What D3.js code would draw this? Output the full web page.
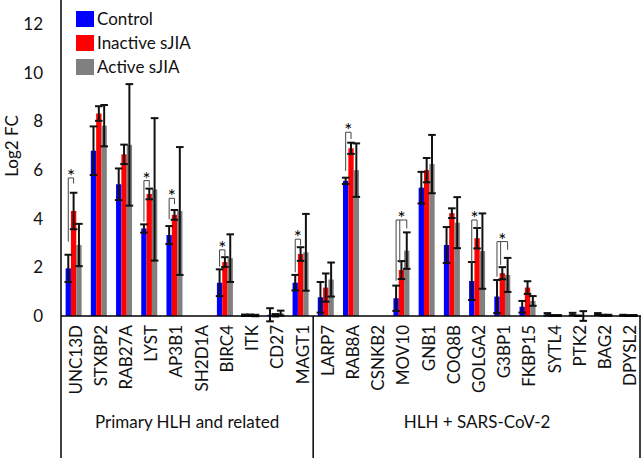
<!DOCTYPE html>
<html><head><meta charset="utf-8">
<script src="https://cdn.jsdelivr.net/npm/d3@7"></script>
<style>
html,body{margin:0;padding:0;background:#fff;}
text{font-family:Lato,"Open Sans",sans-serif;fill:#111;}
</style></head>
<body><svg id="c" width="642" height="458"></svg>
<script>
const genes = ["UNC13D","STXBP2","RAB27A","LYST","AP3B1","SH2D1A","BIRC4","ITK","CD27","MAGT1",
  "LARP7","RAB8A","CSNKB2","MOV10","GNB1","COQ8B","GOLGA2","G3BP1","FKBP15","SYTL4","PTK2","BAG2","DPYSL2"];
const seriesNames = ["Control","Inactive sJIA","Active sJIA"];
const control     = [1.96,6.8,5.42,3.6,3.33,0,1.37,0.03,0.05,1.37,0.77,5.56,0,0.73,5.28,2.92,1.44,0.8,0.38,0.07,0.08,0.08,0.03];
const controlErr  = [0.56,1.0,0.65,0.17,0.37,0,0.55,0.03,0.27,0.32,0.63,0.13,0,0.52,0.65,0.74,0.78,0.68,0.24,0.05,0.05,0.04,0.02];
const inactive    = [4.32,8.33,6.65,5.02,4.16,0,2.22,0.03,0.03,2.55,1.17,6.9,0,1.89,6.0,4.23,3.2,1.76,1.17,0.02,0.01,0.03,0.02];
const inactiveErr = [0.75,0.3,0.4,0.22,0.2,0,0.2,0.03,0.05,0.28,0.58,0.23,0,0.37,0.5,0.2,0.42,0.25,0.26,0.02,0.01,0.02,0.02];
const active      = [2.92,7.83,7.04,5.21,4.32,0,2.38,0.02,0.12,2.62,1.5,6.0,0,2.69,6.25,3.84,2.67,1.69,0.62,0.02,0.0,0.03,0.02];
const activeErr   = [0.87,0.85,2.5,2.93,2.63,0,0.98,0.03,0.1,1.58,0.7,1.1,0,0.75,1.2,1.05,1.55,0.7,0.2,0.02,0.2,0.02,0.02];
const yTicks = [0,2,4,6,8,10,12];
const groups = [{name:"Primary HLH and related", first:"UNC13D", last:"MAGT1"},
                {name:"HLH + SARS-CoV-2", first:"LARP7", last:"DPYSL2"}];
// significance brackets
const sigGene  = ["UNC13D","LYST","AP3B1","BIRC4","MAGT1","RAB8A","MOV10","GOLGA2","G3BP1"];
const sigTo    = [1,1,1,1,1,1,2,1,2];
const sigTop   = [5.68,5.57,4.84,2.72,3.16,7.56,3.95,3.95,3.06];
const sigLeft  = [3.06,3.88,3.98,2.03,1.8,5.97,1.45,2.17,1.62];
const sigRight = [5.45,5.3,4.6,2.44,2.9,7.28,3.6,3.57,2.72];
const sigMid   = [null,null,null,null,null,null,2.19,null,2.1];

const colors = ["#0000ff","#ff0000","#808080"];
const svg = d3.select("#c");
const W=642,H=458;
const x0 = d3.scaleBand().domain(genes).range([61,641]).padding(0);
const x1 = d3.scaleBand().domain([0,1,2]).range([-8,8]);
const y = d3.scaleLinear().domain([0,13]).range([316,0]);

const vals = [control,inactive,active], errs=[controlErr,inactiveErr,activeErr];
const data = [];
genes.forEach((g,i)=>{ for(let s=0;s<3;s++) data.push({g,s,v:vals[s][i],e:errs[s][i]}); });
const cx = d=> x0(d.g)+x0.bandwidth()/2 + x1(d.s);

// bars
svg.append("g").selectAll("rect").data(data).join("rect")
  .attr("x",d=>cx(d)).attr("width",x1.bandwidth())
  .attr("y",d=>y(Math.max(0,d.v))).attr("height",d=>Math.abs(y(0)-y(d.v)))
  .attr("fill",d=>colors[d.s]);

// error bars
const eb = svg.append("g").attr("stroke","#111").attr("stroke-width",2);
data.filter(d=>d.e>0).forEach(d=>{
  const xc = cx(d)+x1.bandwidth()/2;
  eb.append("line").attr("x1",xc).attr("x2",xc).attr("y1",y(d.v+d.e)).attr("y2",y(d.v-d.e));
  [d.v+d.e,d.v-d.e].forEach(v=>eb.append("line").attr("x1",xc-3.8).attr("x2",xc+3.8).attr("y1",y(v)).attr("y2",y(v)));
});

// significance
const sg = svg.append("g");
sigGene.forEach((g,i)=>{
  const xa = x0(g)+x0.bandwidth()/2 + x1(0)+x1.bandwidth()/2;
  const xb = x0(g)+x0.bandwidth()/2 + x1(sigTo[i])+x1.bandwidth()/2;
  const p = d3.path();
  p.moveTo(xa,y(sigLeft[i])); p.lineTo(xa,y(sigTop[i])); p.lineTo(xb,y(sigTop[i])); p.lineTo(xb,y(sigRight[i]));
  if(sigMid[i]!=null){ const xm = x0(g)+x0.bandwidth()/2 + x1(1)+1; p.moveTo(xm,y(sigTop[i])); p.lineTo(xm,y(sigMid[i])); }
  sg.append("path").attr("d",p.toString()).attr("fill","none").attr("stroke","#444").attr("stroke-width",1);
  sg.append("text").attr("x",(xa+xb)/2).attr("y",y(sigTop[i])+5).attr("text-anchor","middle")
    .style("font-size","19px").style("fill","#000").text("*");
});

// axes lines
const ax = svg.append("g").attr("stroke","#000").attr("stroke-width",1.5);
ax.append("line").attr("x1",61).attr("x2",61).attr("y1",0).attr("y2",H);
ax.append("line").attr("x1",61).attr("x2",641).attr("y1",y(0)).attr("y2",y(0));
ax.append("line").attr("x1",640).attr("x2",640).attr("y1",y(0)).attr("y2",H);
const divX = x0("LARP7");
ax.append("line").attr("x1",divX).attr("x2",divX).attr("y1",y(0)).attr("y2",H);

// y tick labels
svg.append("g").selectAll("text").data(yTicks).join("text")
  .attr("x",43).attr("y",d=>y(d)).attr("dy","0.35em").attr("text-anchor","end")
  .style("font-size","17px").text(d=>d);
svg.append("text").attr("transform",`translate(18,${146}) rotate(-90)`).attr("text-anchor","middle")
  .style("font-size","17px").text("Log2 FC");

// x labels
svg.append("g").selectAll("text").data(genes).join("text")
  .attr("transform",d=>`translate(${x0(d)+x0.bandwidth()/2+2},${y(0)+9}) rotate(-90)`)
  .attr("dy","0.35em").attr("text-anchor","end").style("font-size","17px").text(d=>d);

// group labels
groups.forEach(gp=>{
  const xa = gp.first===genes[0]?61:x0(gp.first), xb = x0(gp.last)+x0.bandwidth();
  svg.append("text").attr("x",(xa+xb)/2).attr("y",428).attr("text-anchor","middle")
    .style("font-size","17px").text(gp.name);
});

// legend
const lg = svg.append("g");
seriesNames.forEach((n,i)=>{
  lg.append("rect").attr("x",76).attr("y",11+i*24).attr("width",18).attr("height",16).attr("fill",colors[i]);
  lg.append("text").attr("x",97).attr("y",19+i*24).attr("dy","0.35em").style("font-size","17px").text(n);
});
</script></body></html>
